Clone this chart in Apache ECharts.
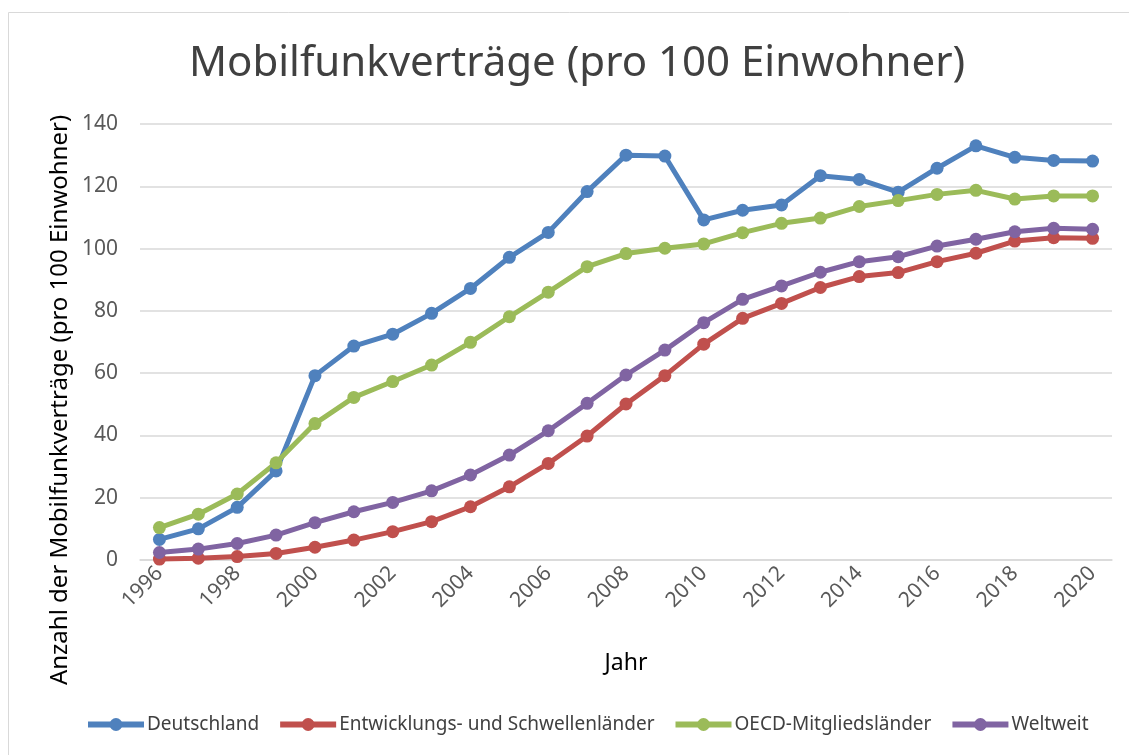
<!DOCTYPE html>
<html>
<head>
<meta charset="utf-8">
<script src="https://cdn.jsdelivr.net/npm/echarts@6/dist/echarts.min.js"></script>
<style>
    html, body { margin: 0; padding: 0; background: #fff; }
    #chart { width: 1129px; height: 755px; }
</style>
</head>
<body>
<div id="chart"></div>
<script>
var years = ['1996', '1997', '1998', '1999', '2000', '2001', '2002', '2003', '2004', '2005', '2006', '2007', '2008',
    '2009', '2010', '2011', '2012', '2013', '2014', '2015', '2016', '2017', '2018', '2019', '2020'];

var deutschland = [6.6, 10.0, 16.9, 28.6, 59.2, 68.7, 72.5, 79.2, 87.2, 97.2, 105.2, 118.3, 130.0,
    129.7, 109.2, 112.3, 114.0, 123.4, 122.2, 118.1, 125.8, 133.0, 129.3, 128.3, 128.1];
var entwicklung = [0.3, 0.6, 1.1, 2.1, 4.1, 6.4, 9.1, 12.3, 17.1, 23.5, 31.0, 39.8, 50.1,
    59.2, 69.3, 77.6, 82.4, 87.5, 91.0, 92.3, 95.8, 98.5, 102.4, 103.5, 103.3];
var oecd = [10.4, 14.7, 21.2, 31.2, 43.8, 52.2, 57.3, 62.6, 69.9, 78.1, 86.0, 94.2, 98.4,
    100.1, 101.5, 105.1, 108.1, 109.8, 113.5, 115.4, 117.4, 118.7, 115.9, 116.9, 116.9];
var weltweit = [2.4, 3.5, 5.3, 8.0, 12.0, 15.5, 18.5, 22.2, 27.3, 33.7, 41.5, 50.3, 59.4,
    67.4, 76.2, 83.7, 88.0, 92.4, 95.8, 97.4, 100.8, 103.0, 105.4, 106.5, 106.2];

var seriesNames = ['Deutschland', 'Entwicklungs- und Schwellenländer', 'OECD-Mitgliedsländer', 'Weltweit'];
var seriesData = [deutschland, entwicklung, oecd, weltweit];
var colors = ['#4F81BD', '#C0504D', '#9BBB59', '#8064A2'];

var font = 'Noto Sans';
var textColor = '#595959';

var myChart = echarts.init(document.getElementById('chart'));

var series = seriesNames.map(function (name, i) {
    return {
        name: name,
        type: 'line',
        data: seriesData[i],
        symbol: 'circle',
        symbolSize: 13,
        lineStyle: { width: 5, color: colors[i] },
        itemStyle: { color: colors[i] },
        animation: false
    };
});

var option = {
    color: colors,
    textStyle: { fontFamily: font },
    title: {
        text: 'Mobilfunkverträge (pro 100 Einwohner)',
        left: 572,
        top: 38,
        textAlign: 'center',
        textStyle: { fontFamily: font, fontSize: 42, fontWeight: 'normal', color: '#404040' }
    },
    graphic: [{
        type: 'rect',
        shape: { x: 8.5, y: 12.5, width: 1200, height: 800 },
        style: { fill: 'none', stroke: '#d9d9d9', lineWidth: 1 },
        z: -1
    }, {
        type: 'text',
        x: 60,
        y: 400,
        rotation: Math.PI / 2,
        style: {
            text: 'Anzahl der Mobilfunkverträge (pro 100 Einwohner)',
            font: '24px "Noto Sans"',
            fill: '#000',
            align: 'center',
            verticalAlign: 'middle'
        }
    }],
    legend: {
        bottom: 16,
        left: 80,
        itemWidth: 56,
        itemHeight: 16,
        itemGap: 18,
        lineStyle: { width: 6 },
        textStyle: { fontFamily: font, fontSize: 19, color: '#404040', padding: [0, 0, 0, -2] },
        data: seriesNames
    },
    grid: {
        left: 140,
        right: 17,
        top: 124,
        bottom: 195
    },
    xAxis: {
        type: 'category',
        data: years,
        boundaryGap: true,
        name: 'Jahr',
        nameLocation: 'middle',
        nameGap: 92,
        nameTextStyle: { fontFamily: font, fontSize: 23, color: '#000' },
        axisLine: { lineStyle: { color: '#d9d9d9', width: 1.5 } },
        axisTick: { show: false },
        axisLabel: {
            interval: 1,
            rotate: 45,
            margin: 10,
            fontSize: 21,
            color: textColor
        }
    },
    yAxis: {
        type: 'value',
        min: 0,
        max: 140,
        interval: 20,
        axisLine: { show: false },
        axisTick: { show: false },
        splitLine: { lineStyle: { color: '#d9d9d9', width: 1.5 } },
        axisLabel: { fontSize: 21, color: textColor, margin: 22 }
    },
    series: series
};

myChart.setOption(option);
</script>
</body>
</html>
